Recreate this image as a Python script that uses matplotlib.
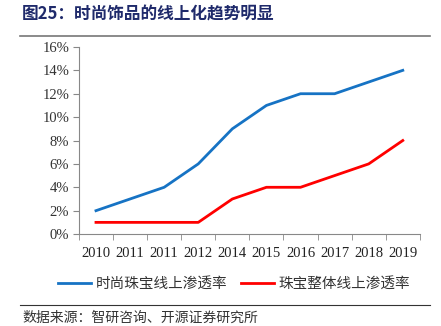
import matplotlib.pyplot as plt
import numpy as np

plt.rcParams['font.family'] = ['Liberation Serif', 'Noto Sans CJK SC']

years = ['2010', '2011', '2011', '2012', '2014', '2015', '2016', '2017', '2018', '2019']
fashion_online = [2, 3, 4, 6, 9, 11, 12, 12, 13, 14]
jewelry_online = [1, 1, 1, 1, 3, 4, 4, 5, 6, 8]

fig = plt.figure(figsize=(4.41, 3.26), dpi=100)
ax = fig.add_axes([0.179, 0.282, 0.773, 0.574])

x = np.arange(len(years))
ax.plot(x, fashion_online, color='#1673C4', lw=2, label='时尚珠宝线上渗透率')
ax.plot(x, jewelry_online, color='#FF0000', lw=2, label='珠宝整体线上渗透率')

ax.set_xlim(-0.5, len(years) - 0.5)
ax.set_ylim(0, 16)
ax.set_yticks(range(0, 17, 2))
ax.set_yticklabels([f'{v}%' for v in range(0, 17, 2)], fontsize=10.5, color='#333333')
ax.set_xticks(x)
ax.set_xticklabels(years, fontsize=10.5, color='#222222')
ax.tick_params(axis='x', length=0, pad=9)
ax.set_xticks(np.arange(-0.5, len(years)), minor=True)
ax.tick_params(axis='x', which='minor', length=4, color='#888888', direction='out')
ax.tick_params(axis='y', length=4, color='#888888', pad=3)

for s in ['top', 'right']:
    ax.spines[s].set_visible(False)
for s in ['left', 'bottom']:
    ax.spines[s].set_color('#888888')

leg = ax.legend(loc='upper center', bbox_to_anchor=(0.455, -0.16), ncol=2, frameon=False,
                prop={'family': 'Noto Sans CJK SC', 'size': 10.5}, handlelength=2.3,
                handletextpad=0.3, columnspacing=0.9)
for t in leg.get_texts():
    t.set_color('#333333')

fig.text(0.05, 0.955, '图25：时尚饰品的线上化趋势明显', fontsize=12, fontweight='bold',
         color='#1F2A6B', family=['Noto Sans CJK SC'], va='center')
fig.add_artist(plt.Line2D([0.045, 0.975], [0.89, 0.89], color='#777777', lw=1.2))
fig.add_artist(plt.Line2D([0.045, 0.975], [0.065, 0.065], color='#333333', lw=0.8))
fig.text(0.05, 0.025, '数据来源：智研咨询、开源证券研究所', fontsize=10,
         color='#333333', family=['Noto Sans CJK SC'], va='center')

fig.savefig('out.png', dpi=100)
